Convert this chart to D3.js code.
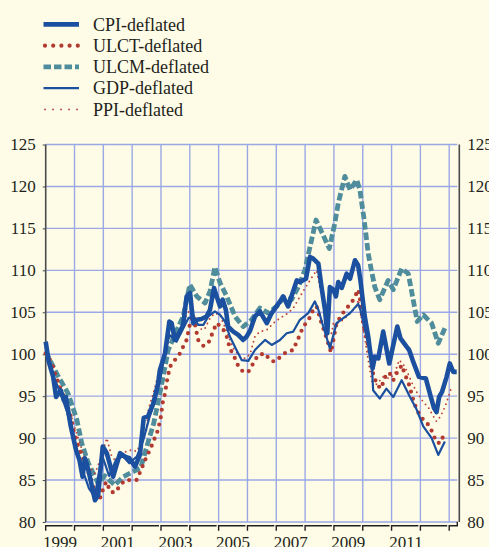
<!DOCTYPE html>
<html>
<head>
<meta charset="utf-8">
<script src="https://cdnjs.cloudflare.com/ajax/libs/d3/7.8.5/d3.min.js"></script>
<style>
  html, body { margin: 0; padding: 0; background: #fefce6; overflow: hidden; }
  svg { display: block; font-family: "Liberation Serif", "Times New Roman", serif; }
</style>
</head>
<body>
<script>
// series: [decimal year, index value]
var cpiDeflated = [
  [1999.00,101.5],[1999.10,99.2],[1999.26,97.3],[1999.36,94.9],[1999.52,95.7],[1999.63,94.5],
  [1999.70,94.9],[1999.87,91.4],[2000.05,88.6],[2000.17,87.4],[2000.28,85.4],[2000.36,87.6],
  [2000.48,86.2],[2000.71,82.6],[2000.82,83.2],[2000.98,89.0],[2001.12,88.2],[2001.34,85.4],
  [2001.58,88.2],[2001.75,87.8],[2001.90,87.6],[2002.10,86.6],[2002.27,88.0],[2002.40,92.4],
  [2002.55,92.6],[2002.73,94.1],[2002.90,96.5],[2002.96,98.1],[2003.14,100.1],[2003.29,103.9],
  [2003.37,103.7],[2003.48,101.7],[2003.66,102.7],[2003.77,103.5],[2003.89,106.9],[2004.01,107.3],
  [2004.12,103.7],[2004.24,104.1],[2004.40,104.2],[2004.58,104.5],[2004.70,105.3],[2004.84,107.9],
  [2004.93,106.9],[2005.05,105.7],[2005.14,106.5],[2005.25,105.3],[2005.33,103.3],[2005.51,102.7],
  [2005.68,102.3],[2005.85,101.7],[2005.97,102.1],[2006.09,102.8],[2006.26,104.5],[2006.43,105.1],
  [2006.67,103.7],[2006.84,104.9],[2007.13,106.3],[2007.24,106.9],[2007.41,105.7],[2007.71,108.8],
  [2007.82,108.6],[2008.03,109.0],[2008.17,111.6],[2008.28,111.4],[2008.46,110.8],[2008.57,108.0],
  [2008.69,105.3],[2008.77,102.5],[2008.86,108.0],[2008.98,107.7],[2009.07,106.9],[2009.15,108.6],
  [2009.27,107.9],[2009.44,109.6],[2009.56,109.0],[2009.73,111.2],[2009.84,110.6],[2009.92,108.8],
  [2010.07,104.5],[2010.19,102.1],[2010.25,100.5],[2010.34,98.3],[2010.42,99.7],[2010.54,99.5],
  [2010.71,102.7],[2010.92,98.9],[2011.20,103.3],[2011.31,101.9],[2011.52,100.9],[2011.61,100.5],
  [2011.73,99.3],[2011.95,97.3],[2012.19,97.1],[2012.33,95.3],[2012.47,93.6],[2012.56,93.1],
  [2012.65,94.9],[2012.75,95.5],[2012.91,97.3],[2013.02,98.9],[2013.14,97.9],[2013.26,97.9]
];

var ulctDeflated = [
  [1999.00,100.1],[1999.21,99.0],[1999.32,97.7],[1999.50,96.0],[1999.67,94.5],[1999.84,93.0],
  [1999.96,91.0],[2000.13,89.0],[2000.36,87.0],[2000.54,85.4],[2000.65,84.2],[2000.77,83.0],
  [2000.88,82.8],[2001.00,84.0],[2001.10,84.8],[2001.25,83.6],[2001.40,83.5],[2001.60,84.4],
  [2001.75,85.0],[2002.00,85.0],[2002.15,85.0],[2002.27,85.9],[2002.50,87.8],[2002.62,88.6],
  [2002.90,91.0],[2003.00,92.6],[2003.05,94.1],[2003.14,95.3],[2003.20,96.7],[2003.31,98.5],
  [2003.48,99.3],[2003.66,100.1],[2003.77,100.9],[2003.89,101.7],[2004.01,103.7],[2004.12,104.7],
  [2004.18,103.5],[2004.29,101.7],[2004.47,101.0],[2004.64,101.3],[2004.76,102.3],[2004.93,103.7],
  [2005.14,103.1],[2005.28,102.1],[2005.39,100.7],[2005.57,99.5],[2005.68,98.6],[2005.85,97.9],
  [2006.03,97.9],[2006.20,98.9],[2006.37,99.9],[2006.61,100.1],[2006.78,99.3],[2006.95,99.1],
  [2007.15,99.7],[2007.36,100.3],[2007.59,100.5],[2007.71,101.5],[2007.82,102.3],[2007.93,103.3],
  [2008.11,104.0],[2008.28,105.3],[2008.40,105.7],[2008.57,103.7],[2008.69,102.5],[2008.80,101.3],
  [2008.90,100.2],[2009.09,103.7],[2009.27,104.7],[2009.44,105.5],[2009.61,106.1],[2009.76,107.1],
  [2009.84,107.7],[2009.90,106.7],[2009.96,104.9],[2010.02,103.7],[2010.07,102.7],[2010.13,101.9],
  [2010.19,100.9],[2010.25,100.1],[2010.31,99.1],[2010.36,97.7],[2010.48,96.5],[2010.62,95.9],
  [2010.72,96.7],[2010.82,97.7],[2010.94,97.7],[2011.06,96.9],[2011.20,97.9],[2011.29,98.3],
  [2011.35,98.7],[2011.52,97.1],[2011.64,96.1],[2011.70,95.1],[2011.87,93.4],[2012.04,92.4],
  [2012.19,92.0],[2012.35,91.2],[2012.45,90.4],[2012.56,89.5],[2012.69,89.4],[2012.79,90.2]
];

var ulcmDeflated = [
  [1999.00,100.3],[1999.38,97.7],[1999.78,95.3],[2000.08,92.2],[2000.25,89.4],[2000.48,87.0],
  [2000.82,84.6],[2001.05,85.5],[2001.40,84.4],[2001.69,85.4],[2002.04,86.0],[2002.30,86.5],
  [2002.55,89.5],[2002.75,91.8],[2003.00,96.0],[2003.25,100.5],[2003.50,102.5],[2003.77,104.5],
  [2004.00,108.3],[2004.24,106.9],[2004.53,106.1],[2004.70,107.5],[2004.87,110.4],[2005.05,108.5],
  [2005.28,106.9],[2005.57,104.5],[2005.85,103.3],[2006.14,104.1],[2006.43,105.5],[2006.72,104.9],
  [2007.01,105.7],[2007.24,106.7],[2007.53,106.5],[2007.76,108.0],[2007.99,110.0],[2008.17,112.8],
  [2008.38,116.0],[2008.57,114.6],[2008.84,112.6],[2009.03,115.6],[2009.15,118.0],[2009.38,121.2],
  [2009.56,119.6],[2009.79,120.8],[2009.90,119.6],[2010.05,116.0],[2010.19,112.0],[2010.30,110.0],
  [2010.42,108.0],[2010.59,106.5],[2010.88,108.8],[2011.06,107.7],[2011.35,110.2],[2011.58,109.6],
  [2011.75,106.5],[2011.89,103.9],[2012.10,104.7],[2012.39,103.7],[2012.62,101.3],[2012.85,103.1]
];

var gdpDeflated = [
  [1999.00,100.8],[1999.25,97.5],[1999.50,95.5],[1999.75,93.0],[2000.00,89.5],[2000.25,86.5],
  [2000.50,84.0],[2000.70,83.0],[2000.95,88.0],[2001.20,85.5],[2001.45,87.5],[2001.69,87.8],
  [2001.90,87.0],[2002.16,87.8],[2002.39,89.8],[2002.60,92.5],[2002.80,94.5],[2003.00,97.5],
  [2003.15,100.5],[2003.29,102.3],[2003.54,101.5],[2003.95,104.3],[2004.12,104.5],[2004.29,103.5],
  [2004.47,103.5],[2004.64,104.5],[2004.87,105.1],[2005.05,104.7],[2005.22,103.9],[2005.39,102.1],
  [2005.62,100.5],[2005.80,99.3],[2006.03,99.2],[2006.26,100.5],[2006.43,101.1],[2006.61,101.7],
  [2006.84,101.1],[2007.13,101.7],[2007.36,102.5],[2007.59,102.7],[2007.82,104.1],[2008.11,104.9],
  [2008.34,106.3],[2008.46,105.3],[2008.63,103.3],[2008.86,100.7],[2009.09,103.7],[2009.56,104.9],
  [2009.84,106.0],[2009.92,105.3],[2010.13,102.1],[2010.31,99.3],[2010.36,95.7],[2010.59,94.7],
  [2010.82,95.9],[2011.06,94.9],[2011.35,96.9],[2011.64,94.9],[2011.87,93.4],[2012.10,91.4],
  [2012.39,90.0],[2012.62,88.0],[2012.85,89.6]
];

var ppiDeflated = [
  [1999.00,100.0],[1999.15,98.1],[1999.40,96.5],[1999.60,95.5],[1999.80,93.6],[2000.07,90.6],
  [2000.30,88.2],[2000.50,86.5],[2000.71,85.8],[2000.90,87.5],[2001.12,90.0],[2001.29,87.8],
  [2001.40,87.4],[2001.63,88.2],[2001.80,88.4],[2001.98,88.6],[2002.16,88.4],[2002.27,89.2],
  [2002.50,91.0],[2002.56,93.4],[2002.73,95.3],[2002.90,97.5],[2003.08,99.3],[2003.20,100.9],
  [2003.31,102.3],[2003.54,101.9],[2003.66,102.9],[2003.83,104.3],[2004.01,105.3],[2004.24,104.1],
  [2004.41,102.9],[2004.53,103.1],[2004.70,104.3],[2004.87,104.9],[2005.05,104.7],[2005.16,103.7],
  [2005.28,102.7],[2005.39,101.7],[2005.51,100.7],[2005.74,99.7],[2005.91,99.5],[2006.09,100.0],
  [2006.26,102.1],[2006.43,102.7],[2006.67,102.9],[2006.90,103.7],[2007.13,104.3],[2007.41,104.9],
  [2007.59,105.5],[2007.76,106.5],[2007.93,107.5],[2008.11,108.5],[2008.28,109.4],[2008.40,110.0],
  [2008.51,108.0],[2008.63,106.1],[2008.72,104.1],[2008.82,102.5],[2008.92,102.5],[2008.98,103.7],
  [2009.12,103.7],[2009.33,104.1],[2009.56,104.9],[2009.79,105.7],[2009.84,106.5],[2009.90,105.5],
  [2010.00,103.3],[2010.10,101.3],[2010.19,99.3],[2010.29,97.3],[2010.36,96.1],[2010.50,96.5],
  [2010.71,97.3],[2010.94,97.1],[2011.11,97.7],[2011.26,99.3],[2011.40,98.8],[2011.52,98.1],
  [2011.69,96.7],[2011.87,95.5],[2012.10,94.3],[2012.27,93.7],[2012.45,92.6],[2012.56,92.0],
  [2012.70,92.6],[2012.85,93.7],[2012.97,94.9],[2013.08,96.1]
];

var seriesNames = ["CPI-deflated", "ULCT-deflated", "ULCM-deflated", "GDP-deflated", "PPI-deflated"];
var yTicks = [80, 85, 90, 95, 100, 105, 110, 115, 120, 125];
var years = [1999, 2000, 2001, 2002, 2003, 2004, 2005, 2006, 2007, 2008, 2009, 2010, 2011, 2012, 2013];
var yearLabels = [1999, 2001, 2003, 2005, 2007, 2009, 2011];

var W = 489, H = 547;
var plotLeft = 45.7, plotRight = 459.3, plotTop = 144.5, plotBottom = 522;

var x = d3.scaleLinear().domain([1999, 2013.35]).range([plotLeft, plotRight]);
var y = d3.scaleLinear().domain([80, 125]).range([plotBottom, plotTop]);

var svg = d3.select("body").append("svg")
    .attr("width", W)
    .attr("height", H);

svg.append("rect").attr("width", W).attr("height", H).attr("fill", "#fefce6");

var gridColor = "#9ba8e6";
var inkColor = "#231f20";

// grid
svg.append("g").selectAll("line")
    .data(yTicks)
  .enter().append("line")
    .attr("x1", plotLeft).attr("x2", plotRight - 2)
    .attr("y1", function(d) { return y(d); })
    .attr("y2", function(d) { return y(d); })
    .attr("stroke", gridColor)
    .attr("stroke-width", 1.4);

svg.append("g").selectAll("line")
    .data(years.slice(1))
  .enter().append("line")
    .attr("x1", function(d) { return x(d); })
    .attr("x2", function(d) { return x(d); })
    .attr("y1", plotTop).attr("y2", plotBottom)
    .attr("stroke", gridColor)
    .attr("stroke-width", 1.4);

// left / right axes
var yAxisL = d3.axisLeft(y).tickValues(yTicks).tickSize(3).tickPadding(7);
var gL = svg.append("g")
    .attr("transform", "translate(" + plotLeft + ",0)")
    .call(yAxisL);

var yAxisR = d3.axisRight(y).tickValues(yTicks).tickSize(0).tickPadding(8);
var gR = svg.append("g")
    .attr("transform", "translate(" + plotRight + ",0)")
    .call(yAxisR);

[gL, gR].forEach(function(g) {
  g.select(".domain")
    .attr("d", "M0," + plotTop + "V" + plotBottom)
    .attr("stroke", "#4a4a4a")
    .attr("stroke-width", 1.6);
  g.selectAll(".tick line").attr("stroke", "#4a4a4a");
  g.selectAll("text")
    .attr("fill", inkColor)
    .style("font-family", "'Liberation Serif', serif")
    .style("font-size", "17px");
});

// bottom bracket axis
var axisY = 525.8;
var gB = svg.append("g");
gB.selectAll("path")
    .data(years.slice(0, -1))
  .enter().append("path")
    .attr("d", function(d) {
      var x0 = x(d), x1 = x(d + 1) - 2;
      return "M" + x0 + "," + (axisY + 5) + "V" + axisY + "H" + x1;
    })
    .attr("fill", "none")
    .attr("stroke", inkColor)
    .attr("stroke-width", 1.4);
gB.append("path")
    .attr("d", "M" + x(2013) + "," + (axisY + 5) + "V" + axisY + "H" + (plotRight - 2) + "V" + (axisY - 4))
    .attr("fill", "none")
    .attr("stroke", inkColor)
    .attr("stroke-width", 1.4);

gB.selectAll("text")
    .data(yearLabels)
  .enter().append("text")
    .attr("x", function(d) { return x(d + 0.5); })
    .attr("y", 548)
    .attr("text-anchor", "middle")
    .attr("fill", inkColor)
    .style("font-size", "17px")
    .text(function(d) { return d; });

// lines
var line = d3.line()
    .x(function(d) { return x(d[0]); })
    .y(function(d) { return y(d[1]); });

var styles = {
  "CPI-deflated":  { data: cpiDeflated,  color: "#1b4f9f", width: 4.6, dash: null, cap: "butt" },
  "ULCT-deflated": { data: ulctDeflated, color: "#b33a31", width: 4.2, dash: "0,7.5", cap: "round" },
  "ULCM-deflated": { data: ulcmDeflated, color: "#4f8c9c", width: 4.8, dash: "7.5,3", cap: "butt" },
  "GDP-deflated":  { data: gdpDeflated,  color: "#1b4f9f", width: 2.2, dash: null, cap: "butt" },
  "PPI-deflated":  { data: ppiDeflated,  color: "#bb4038", width: 1.9, dash: "0,5", cap: "round" }
};

var drawOrder = ["ULCM-deflated", "ULCT-deflated", "PPI-deflated", "GDP-deflated", "CPI-deflated"];
drawOrder.forEach(function(name) {
  var s = styles[name];
  svg.append("path")
      .datum(s.data)
      .attr("d", line)
      .attr("fill", "none")
      .attr("stroke", s.color)
      .attr("stroke-width", s.width)
      .attr("stroke-dasharray", s.dash)
      .attr("stroke-linecap", s.cap)
      .attr("stroke-linejoin", "round");
});

// legend
var legend = svg.append("g");
seriesNames.forEach(function(name, i) {
  var s = styles[name];
  var base = 30.7 + i * 21.25;
  legend.append("line")
      .attr("x1", name == "ULCT-deflated" || name == "PPI-deflated" ? 45 : 43.5)
      .attr("x2", 79)
      .attr("y1", base - 6.3).attr("y2", base - 6.3)
      .attr("stroke", s.color)
      .attr("stroke-width", s.width)
      .attr("stroke-dasharray", name == "ULCT-deflated" ? "0,8.2" : name == "PPI-deflated" ? "0,8" : s.dash)
      .attr("stroke-linecap", s.cap);
  legend.append("text")
      .attr("x", 93)
      .attr("y", base)
      .attr("fill", inkColor)
      .style("font-size", "18px")
      .text(name);
});
</script>
</body>
</html>
